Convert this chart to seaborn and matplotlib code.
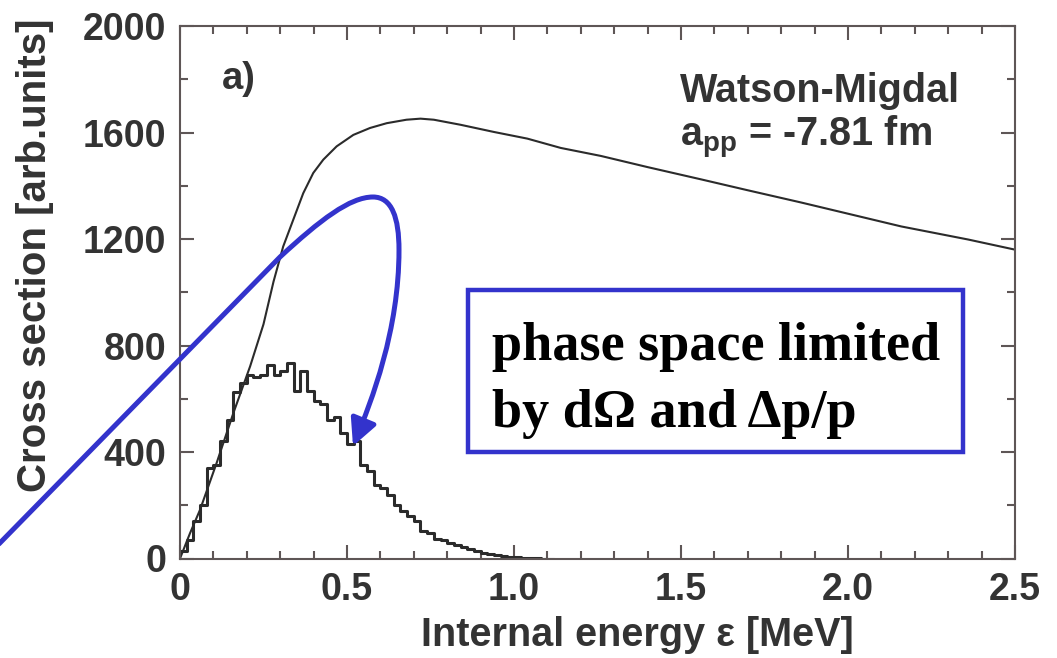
import numpy as np
import pandas as pd
import matplotlib
matplotlib.use("Agg")
import matplotlib.pyplot as plt
import seaborn as sns
from matplotlib.path import Path
from matplotlib.patches import FancyArrowPatch, Rectangle

# smooth Watson-Migdal curve
curve_e = [0.0, 0.03, 0.06, 0.11, 0.16, 0.21, 0.25, 0.28, 0.309, 0.339, 0.369, 0.399,
           0.429, 0.469, 0.519, 0.569, 0.619, 0.678, 0.72, 0.76, 0.84, 0.94, 1.04, 1.14,
           1.26, 1.40, 1.56, 1.70, 1.86, 2.00, 2.16, 2.36, 2.50]
curve_val = [0, 95, 183, 360, 547, 722, 880, 1040, 1172, 1272, 1372, 1448,
             1498, 1548, 1591, 1617, 1635, 1648, 1652, 1648, 1629, 1602, 1577, 1542,
             1512, 1470, 1424, 1383, 1337, 1295, 1247, 1198, 1160]

# simulated spectrum, 0.02 MeV bins starting at 0
hist_counts = [30, 70, 140, 200, 340, 350, 440, 520, 625, 660,
               690, 680, 690, 725, 690, 705, 735, 630, 705, 630,
               590, 580, 520, 530, 470, 430, 440, 350, 330, 275,
               265, 240, 200, 180, 160, 140, 105, 95, 75, 70,
               58, 50, 42, 35, 30, 22, 18, 12, 8, 6,
               4, 2, 3, 1, 0, 0]
bin_width = 0.02

x_ticks = [0, 0.5, 1.0, 1.5, 2.0, 2.5]
x_labels = ["0", "0.5", "1.0", "1.5", "2.0", "2.5"]
y_ticks = [0, 400, 800, 1200, 1600, 2000]

W, H = 1057, 658
def px(x, y):
    return (x / W, 1 - y / H)

sns.set_style("ticks")
plt.rcParams['font.family'] = ['Liberation Sans', 'DejaVu Sans']
plt.rcParams['font.weight'] = 'bold'
plt.rcParams['mathtext.fontset'] = 'custom'
plt.rcParams['mathtext.bf'] = 'Liberation Sans:bold'
plt.rcParams['mathtext.rm'] = 'Liberation Sans:bold'

txt = '#333333'
spine_c = '#5e5656'

fig = plt.figure(figsize=(W / 100, H / 100), dpi=100)
ax = fig.add_axes([180 / W, 1 - 558.5 / H, 835 / W, 532.5 / H])

sns.lineplot(x=curve_e, y=curve_val, ax=ax, color='#2b2b2b', linewidth=1.5)

n = len(hist_counts)
centers = np.arange(n) * bin_width + bin_width / 2
hist_df = pd.DataFrame({'e': centers, 'w': hist_counts})
sns.histplot(data=hist_df, x='e', weights='w', binwidth=bin_width, binrange=(0, n * bin_width),
             element='step', fill=False, color='#2b2b2b', linewidth=2.2, ax=ax)

ax.set_xlim(0, 2.5)
ax.set_ylim(0, 2000)
ax.set_xticks(x_ticks)
ax.set_xticklabels(x_labels)
ax.set_yticks(y_ticks)
ax.set_xticks(np.arange(0, 2.51, 0.1), minor=True)
ax.set_yticks(np.arange(0, 2001, 200), minor=True)
ax.tick_params(which='both', direction='in', top=True, right=True, color=spine_c, width=1.5)
ax.tick_params(which='major', length=10, labelsize=27, labelcolor=txt, pad=10)
ax.tick_params(which='minor', length=6)
for s in ax.spines.values():
    s.set_color(spine_c)
    s.set_linewidth(1.5)

ax.set_xlabel('Internal energy ε [MeV]', fontsize=28.5, color=txt, fontweight='bold')
ax.xaxis.set_label_coords((637 - 180) / 835, (558.5 - 646) / 532.5)
ax.xaxis.label.set_va('baseline')
ax.set_ylabel('Cross section [arb.units]', fontsize=29, color=txt, fontweight='bold')
ax.yaxis.set_label_coords((35 - 180) / 835, (558.5 - 255) / 532.5)
ax.yaxis.label.set_va('center')

ax.text(0.125, 1762, 'a)', fontsize=27.5, color=txt, fontweight='bold', va='baseline')
ax.text(1.497, 1716, 'Watson-Migdal', fontsize=28.5, color=txt, fontweight='bold', va='baseline')
ax.text(1.497, 1547, r'a$_{\mathbf{pp}}$ = -7.81 fm', fontsize=28.5, color=txt,
        fontweight='bold', va='baseline')

# blue annotation box
blue = '#3333cc'
x0, y0 = px(468, 452)
x1, y1 = px(963, 290)
fig.add_artist(Rectangle((x0, y0), x1 - x0, y1 - y0, transform=fig.transFigure,
                         facecolor='white', edgecolor=blue, linewidth=3.2, zorder=5))
fig.text(*px(492, 360), 'phase space limited', fontsize=39, fontweight='bold',
         family=['Liberation Serif', 'DejaVu Serif'], color='black', va='baseline', zorder=6)
fig.text(*px(492, 427), 'by dΩ and Δp/p', fontsize=39, fontweight='bold',
         family=['Liberation Serif', 'DejaVu Serif'], color='black', va='baseline', zorder=6)

# curved blue arrow
verts = [px(-5, 548), px(280, 257),
         px(320, 220), px(350, 197), px(373, 197),
         px(392, 197), px(399, 218), px(399, 250),
         px(399, 330), px(372, 400), px(353, 446)]
codes = [Path.MOVETO, Path.LINETO,
         Path.CURVE4, Path.CURVE4, Path.CURVE4,
         Path.CURVE4, Path.CURVE4, Path.CURVE4,
         Path.CURVE4, Path.CURVE4, Path.CURVE4]
arrow = FancyArrowPatch(path=Path(verts, codes), transform=fig.transFigure,
                        arrowstyle='-|>,head_length=0.8,head_width=0.4',
                        mutation_scale=20, color=blue, linewidth=3.6, zorder=7)
fig.add_artist(arrow)

fig.savefig('out.png', dpi=100)
